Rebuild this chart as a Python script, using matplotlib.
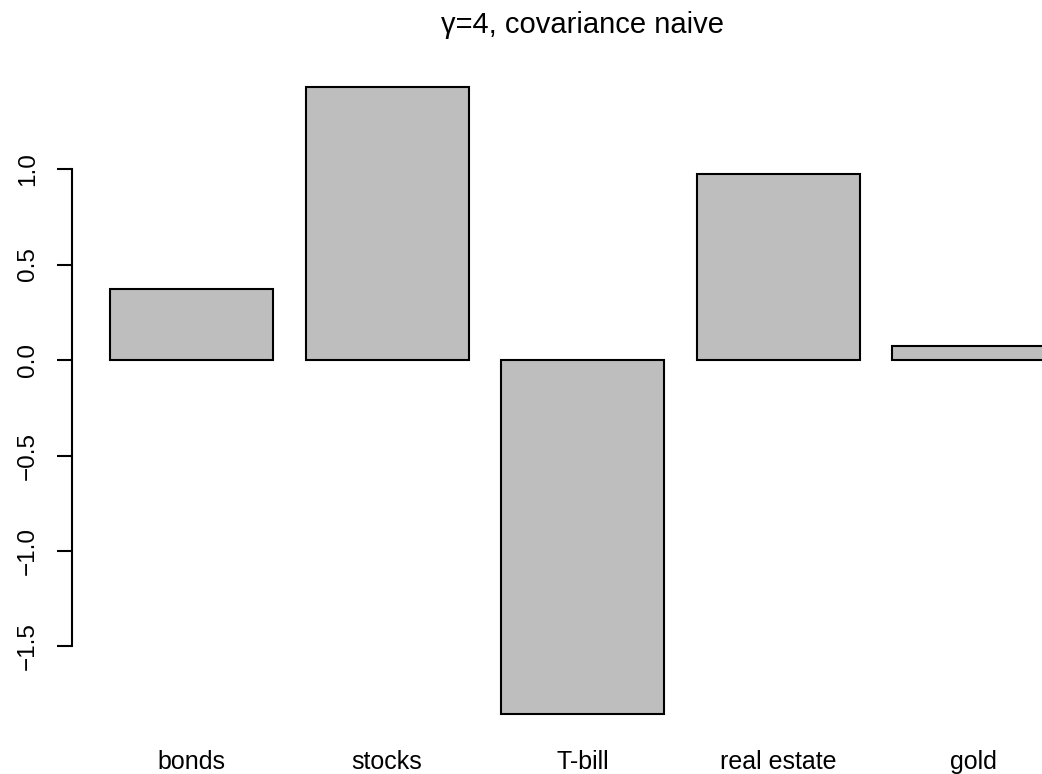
import numpy as np
import matplotlib.pyplot as plt

plt.rcParams['font.family'] = ['Liberation Sans', 'DejaVu Sans']

# portfolio weights
assets = ['bonds', 'stocks', 'T-bill', 'real estate', 'gold']
weights = [0.37, 1.432, -1.855, 0.974, 0.071]
yticks = [-1.5, -1.0, -0.5, 0.0, 0.5, 1.0]

# R barplot layout: width 1, space 0.2
x = 0.7 + 1.2 * np.arange(len(assets))

fig = plt.figure(figsize=(10.42, 7.74), dpi=100)
# plot region extends past the right edge (gold bar is cut off in the original)
ax = fig.add_axes([72.2 / 1042, 1 - 739.4 / 774, (1093 - 72.2) / 1042, (739.4 - 61.4) / 774])

ax.bar(x, weights, width=1.0, color='#BEBEBE', edgecolor='black', linewidth=1.5)

lo, hi = min(weights), max(weights)
ext = 0.04 * (hi - lo)
ax.set_ylim(lo - ext, hi + ext)
ax.set_xlim(0.2 - 0.04 * 5.8, 6.0 + 0.04 * 5.8)

for s in ['top', 'right', 'bottom']:
    ax.spines[s].set_visible(False)
ax.spines['left'].set_bounds(yticks[0], yticks[-1])
ax.spines['left'].set_linewidth(1.5)

ax.set_yticks(yticks)
ax.set_yticklabels([f'{v:.1f}'.replace('-', '\u2212') for v in yticks],
                   rotation=90, va='center', fontsize=17.5)
ax.tick_params(axis='y', length=11, width=1.5, pad=13)

ax.set_xticks(x)
ax.set_xticklabels(assets, fontsize=18)
ax.tick_params(axis='x', length=0, pad=7.5)

ax.set_title('\u03b3=4, covariance naive', fontsize=21, pad=20.5)

plt.savefig('out.png', dpi=100)
